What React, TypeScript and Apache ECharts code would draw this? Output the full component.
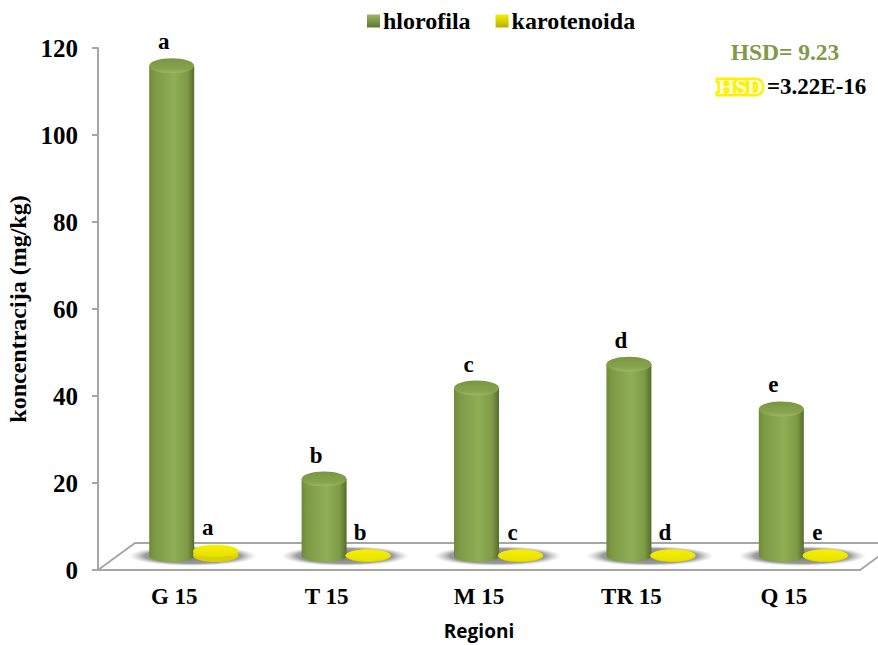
import React, { useEffect, useRef } from "react";
import * as echarts from "echarts";

const categories = ["G 15", "T 15", "M 15", "TR 15", "Q 15"];
const hlorofila = [112.7, 17.7, 38.6, 44.1, 33.8];
const karotenoida = [1.2, 0.15, 0.15, 0.15, 0.15];
const greenLetters = ["a", "b", "c", "d", "e"];
const yellowLetters = ["a", "b", "c", "d", "e"];
const yTicks = { min: 0, max: 120, interval: 20 };

const SERIF = "'Liberation Serif', 'Times New Roman', serif";
const GRID = { left: 98, top: 48, width: 762, height: 522 };
const DEPTH_X = 37;
const DEPTH_Y = 27;
const BASE_LIFT = 14;
const RX = 22.5;
const RY = 6;

const hGrad = (stops: [number, string][]) => ({
  type: "linear", x: 0, y: 0, x2: 1, y2: 0,
  colorStops: stops.map(([offset, color]) => ({ offset, color })),
});
const vGrad = (stops: [number, string][]) => ({
  type: "linear", x: 0, y: 0, x2: 0, y2: 1,
  colorStops: stops.map(([offset, color]) => ({ offset, color })),
});

const greenBody = hGrad([[0, "#6f8a3a"], [0.12, "#7d9a45"], [0.55, "#8fae55"], [0.85, "#7d9a45"], [1, "#566b2b"]]);
const yellowBody = vGrad([[0, "#f7f000"], [1, "#e6e000"]]);

function renderGreen(_: any, api: any) {
  const i = api.value(0);
  const [cx, y0] = api.coord([i, 0]);
  const [, yv] = api.coord([i, api.value(1)]);
  const x = cx - 2.5;
  const base = y0 - BASE_LIFT;
  const top = yv - BASE_LIFT;
  return {
    type: "group",
    children: [
      {
        type: "ellipse",
        shape: { cx: x + 21, cy: base, rx: 64, ry: 10 },
        style: {
          fill: {
            type: "radial", x: 0.5, y: 0.5, r: 0.5,
            colorStops: [
              { offset: 0, color: "rgba(110,110,110,0.95)" },
              { offset: 0.75, color: "rgba(130,130,130,0.8)" },
              { offset: 1, color: "rgba(190,190,190,0)" },
            ],
          },
        },
      },
      { type: "ellipse", shape: { cx: x, cy: base, rx: RX, ry: RY }, style: { fill: greenBody } },
      { type: "rect", shape: { x: x - RX, y: top, width: RX * 2, height: base - top }, style: { fill: greenBody } },
      {
        type: "ellipse",
        shape: { cx: x, cy: top, rx: RX, ry: 7.5 },
        style: { fill: vGrad([[0, "#7a9642"], [0.7, "#86a34c"], [1, "#9ab765"]]) },
      },
      {
        type: "text",
        style: {
          x: x - 8, y: top - 24, text: greenLetters[i], fill: "#000",
          font: `bold 23px ${SERIF}`, align: "center", verticalAlign: "middle",
        },
      },
    ],
  };
}

function renderYellow(_: any, api: any) {
  const i = api.value(0);
  const [cx, y0] = api.coord([i, 0]);
  const [, yv] = api.coord([i, api.value(1)]);
  const x = cx + 41.5;
  const base = y0 - BASE_LIFT;
  const top = yv - BASE_LIFT;
  return {
    type: "group",
    children: [
      { type: "ellipse", shape: { cx: x, cy: base, rx: RX, ry: RY }, style: { fill: "#d8d300" } },
      { type: "rect", shape: { x: x - RX, y: top, width: RX * 2, height: base - top }, style: { fill: "#e0dc00" } },
      { type: "ellipse", shape: { cx: x, cy: top, rx: RX, ry: RY }, style: { fill: yellowBody } },
      {
        type: "text",
        style: {
          x: x - 8, y: top - 23, text: yellowLetters[i], fill: "#000",
          font: `bold 23px ${SERIF}`, align: "center", verticalAlign: "middle",
        },
      },
    ],
  };
}

export default function App() {
  const ref = useRef<HTMLDivElement>(null);
  useEffect(() => {
    if (!ref.current) return;
    const chart = echarts.init(ref.current, undefined, { renderer: "svg" });
    const L = GRID.left;
    const B = GRID.top + GRID.height;
    const R = L + GRID.width;
    chart.setOption({
      animation: false,
      backgroundColor: "#fff",
      grid: { ...GRID, outerBoundsMode: "none", containLabel: false },
      legend: {
        left: 362, top: 4, itemWidth: 13, itemHeight: 13, itemGap: 25,
        textStyle: { fontFamily: SERIF, fontWeight: "bold", fontSize: 24, color: "#000", padding: [0, 0, 0, -2] },
        data: [
          { name: "hlorofila", icon: "rect", itemStyle: { color: vGrad([[0, "#9ab765"], [1, "#5f7530"]]) } },
          { name: "karotenoida", icon: "rect", itemStyle: { color: vGrad([[0, "#f4f000"], [1, "#b5b000"]]) } },
        ],
      },
      xAxis: {
        type: "category", data: categories,
        name: "Regioni", nameLocation: "middle", nameGap: 51,
        nameTextStyle: { fontFamily: "'Open Sans', sans-serif", fontWeight: "bold", fontSize: 19, color: "#000" },
        axisLine: { lineStyle: { color: "#a6a6a6", width: 2 } },
        axisTick: { length: 6, alignWithLabel: false, lineStyle: { color: "#a6a6a6", width: 2 } },
        axisLabel: { fontFamily: SERIF, fontWeight: "bold", fontSize: 23, color: "#000", margin: 15 },
      },
      yAxis: {
        type: "value", ...yTicks,
        name: "koncentracija (mg/kg)", nameLocation: "middle", nameGap: 66, nameRotate: 90,
        nameTextStyle: { fontFamily: SERIF, fontWeight: "bold", fontSize: 24, color: "#000" },
        axisLine: { show: true, lineStyle: { color: "#a6a6a6", width: 2 } },
        axisTick: { show: true, length: 6, lineStyle: { color: "#a6a6a6", width: 2 } },
        axisLabel: { fontFamily: SERIF, fontWeight: "bold", fontSize: 25, color: "#000", margin: 20 },
        splitLine: { show: false },
      },
      graphic: [
        {
          type: "polygon", z: 0, silent: true,
          shape: { points: [[L, B], [L + DEPTH_X, B - DEPTH_Y], [R + DEPTH_X, B - DEPTH_Y], [R, B]] },
          style: { fill: "#fff", stroke: "#a6a6a6", lineWidth: 2 },
        },
        {
          type: "text", z: 5, x: 785, y: 52,
          style: { text: "HSD= 9.23", fill: "#7f9a48", font: `bold 23.5px ${SERIF}`, align: "center", verticalAlign: "middle" },
        },
        {
          type: "text", z: 5, x: 718, y: 86,
          style: { text: "HSD", fill: "#fffde0", stroke: "#fff200", lineWidth: 5, font: `bold 22px ${SERIF}`, align: "left", verticalAlign: "middle" },
        },
        {
          type: "text", z: 5, x: 767, y: 86,
          style: { text: "=3.22E-16", fill: "#000", font: `bold 23px ${SERIF}`, align: "left", verticalAlign: "middle" },
        },
      ],
      series: [
        {
          name: "hlorofila", type: "custom", coordinateSystem: "cartesian2d", clip: false, z: 3,
          itemStyle: { color: "#7d9a45" },
          renderItem: renderGreen,
          encode: { x: 0, y: 1 },
          data: hlorofila.map((v, i) => [i, v]),
        },
        {
          name: "karotenoida", type: "custom", coordinateSystem: "cartesian2d", clip: false, z: 4,
          itemStyle: { color: "#f4f000" },
          renderItem: renderYellow,
          encode: { x: 0, y: 1 },
          data: karotenoida.map((v, i) => [i, v]),
        },
      ],
    });
    return () => chart.dispose();
  }, []);
  return <div ref={ref} style={{ position: "fixed", left: 0, top: 0, width: 878, height: 645 }} />;
}
